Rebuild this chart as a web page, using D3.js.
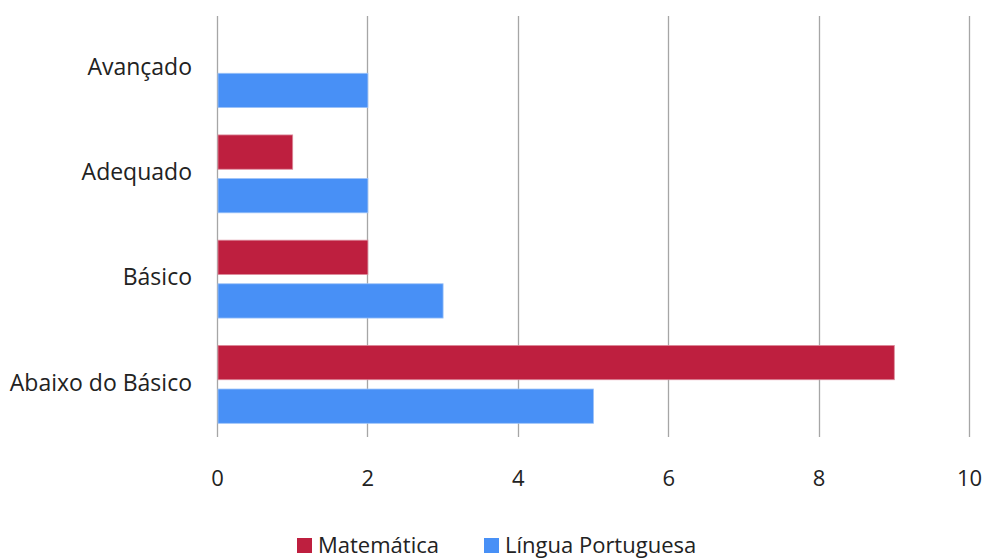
<!DOCTYPE html>
<html>
<head>
<meta charset="utf-8">
<script src="https://cdn.jsdelivr.net/npm/d3@7"></script>
<style>
  html, body { margin: 0; padding: 0; background: #fff; }
  svg { display: block; font-family: "Open Sans", sans-serif; }
</style>
</head>
<body>
<svg id="chart" width="984" height="559"></svg>
<script>
// Níveis de proficiência, de cima para baixo
const categories = ["Avançado", "Adequado", "Básico", "Abaixo do Básico"];
const seriesNames = ["Matemática", "Língua Portuguesa"];
const matematica = [0, 1, 2, 9];
const linguaPortuguesa = [2, 2, 3, 5];
const xTicks = [0, 2, 4, 6, 8, 10];

const colors = {
  "Matemática": { fill: "#BE1F3F", stroke: "#DC8A9B" },
  "Língua Portuguesa": { fill: "#4890F6", stroke: "#9DC3F8" }
};

const rows = categories.map((c, i) => ({
  category: c,
  values: [
    { series: seriesNames[0], value: matematica[i] },
    { series: seriesNames[1], value: linguaPortuguesa[i] }
  ]
}));

const svg = d3.select("#chart");
const margin = { top: 16, left: 217 };
const plotW = 752, plotH = 421;

const g = svg.append("g").attr("transform", `translate(${margin.left},${margin.top})`);

const x = d3.scaleLinear().domain([0, 10]).range([0, plotW]);
const y = d3.scaleBand().domain(categories).range([0, plotH]).padding(0);
const ySeries = d3.scaleBand()
  .domain(seriesNames)
  .range([0, y.bandwidth()])
  .paddingInner(0.213)
  .paddingOuter(0.314);

// Linhas de grade verticais (incluindo o eixo em zero)
g.append("g")
  .selectAll("line")
  .data(xTicks)
  .join("line")
  .attr("x1", d => Math.round(x(d)) + 0.5)
  .attr("x2", d => Math.round(x(d)) + 0.5)
  .attr("y1", 0)
  .attr("y2", plotH)
  .attr("stroke", "#A6A6A6")
  .attr("stroke-width", 1.3);

// Barras
g.append("g")
  .selectAll("g")
  .data(rows)
  .join("g")
  .attr("transform", d => `translate(0,${y(d.category)})`)
  .selectAll("rect")
  .data(d => d.values.filter(v => v.value > 0))
  .join("rect")
  .attr("x", x(0) + 1)
  .attr("y", d => ySeries(d.series))
  .attr("width", d => x(d.value) - x(0) - 0.5)
  .attr("height", ySeries.bandwidth())
  .attr("fill", d => colors[d.series].fill)
  .attr("stroke", d => colors[d.series].stroke)
  .attr("stroke-width", 0.8);

// Rótulos do eixo x
const xAxis = d3.axisBottom(x).tickValues(xTicks).tickSize(0).tickPadding(0);
const xg = g.append("g")
  .attr("transform", `translate(0,${plotH})`)
  .call(xAxis);
xg.select(".domain").remove();
xg.selectAll("text")
  .attr("dy", null)
  .attr("y", 43)
  .attr("dominant-baseline", "middle")
  .attr("font-family", "Open Sans, sans-serif")
  .attr("font-size", 22)
  .attr("fill", "#222");

// Rótulos das categorias
const yAxis = d3.axisLeft(y).tickSize(0).tickPadding(25);
const yg = g.append("g").call(yAxis);
yg.select(".domain").remove();
yg.selectAll("text")
  .attr("dy", null)
  .attr("dominant-baseline", "middle")
  .attr("font-family", "Open Sans, sans-serif")
  .attr("font-size", 23)
  .attr("fill", "#222");

// Legenda
const legend = svg.append("g").attr("transform", "translate(297,538)");
const legendX = [0, 187];
const items = legend.selectAll("g")
  .data(seriesNames)
  .join("g")
  .attr("transform", (d, i) => `translate(${legendX[i]},0)`);
items.append("rect")
  .attr("width", 15)
  .attr("height", 15)
  .attr("fill", d => colors[d].fill);
items.append("text")
  .attr("x", 21)
  .attr("y", 15)
  .attr("font-size", 22)
  .attr("fill", "#222")
  .text(d => d);
</script>
</body>
</html>
